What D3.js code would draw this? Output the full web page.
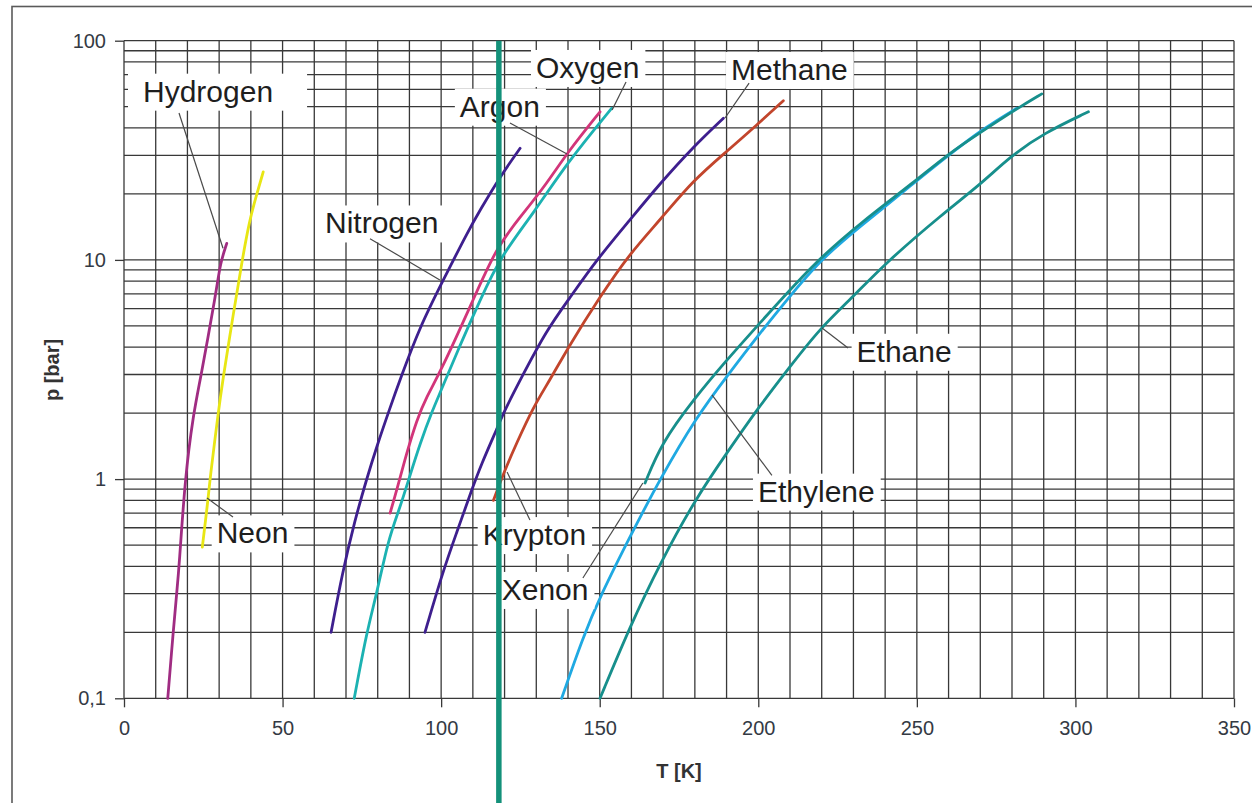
<!DOCTYPE html>
<html><head><meta charset="utf-8">
<script src="https://cdn.jsdelivr.net/npm/d3@7"></script>
<style>body{margin:0;background:#fff} svg{display:block}</style>
</head><body>
<svg id="chart" width="1252" height="803"></svg>
<script>
// ---------- data ----------
const xTicks = [0, 50, 100, 150, 200, 250, 300, 350];
const yTicks = [0.1, 1, 10, 100];
const yTickLabels = ["0,1", "1", "10", "100"];
const xTitle = "T [K]";
const yTitle = "p [bar]";
const markerT = 118.2;

const hydrogenT = [13.8, 15.5, 16.6, 17.4, 19.2, 21.9, 24.0, 29.2, 30.3, 32.4];
const hydrogenP = [0.1, 0.2, 0.3, 0.4, 1.0, 2.0, 2.8, 7.3, 9.6, 11.9];
const neonT = [24.7, 26.6, 27.1, 29.7, 31.0, 34.5, 37.1, 39.5, 41.8, 43.9];
const neonP = [0.49, 0.83, 1.0, 2.0, 2.75, 5.7, 9.65, 15.0, 19.8, 25.2];
const nitrogenT = [65.3, 68.8, 72.8, 76.5, 79.7, 84.0, 87.0, 93.3, 100.7, 108.1, 112.3, 118.6, 124.9];
const nitrogenP = [0.2, 0.37, 0.65, 1.0, 1.41, 2.14, 2.83, 4.96, 8.1, 13.2, 16.9, 24.0, 32.3];
const argonT = [83.9, 86.0, 89.1, 92.3, 95.4, 99.6, 110.1, 117.5, 125.9, 133.3, 139.6, 150.1];
const argonP = [0.70, 0.89, 1.31, 1.86, 2.38, 3.04, 6.56, 11.5, 16.3, 22.3, 30.6, 47.4];
const oxygenT = [72.6, 76.5, 79.7, 83.3, 87.0, 90.0, 93.3, 97.5, 99.6, 106.0, 112.3, 118.6, 129.1, 139.6, 153.8];
const oxygenP = [0.1, 0.2, 0.3, 0.53, 0.74, 1.02, 1.45, 2.1, 2.46, 4.1, 6.56, 10.3, 16.3, 27.6, 49.2];
const methaneT = [94.9, 100.7, 104.9, 109.6, 112.8, 117.0, 119.6, 124.9, 133.3, 140.1, 149.0, 159.5, 169.0, 179.5, 189.0];
const methaneP = [0.2, 0.385, 0.57, 0.89, 1.18, 1.62, 2.0, 2.83, 4.79, 6.56, 10.0, 15.2, 22.3, 32.8, 44.3];
const kryptonT = [116.5, 120.1, 123.8, 129.1, 134.3, 140.1, 150.1, 159.5, 169.0, 179.5, 190.0, 199.5, 207.9];
const kryptonP = [0.8, 1.1, 1.46, 2.14, 2.83, 4.0, 6.8, 10.7, 15.2, 23.1, 31.2, 41.2, 53.2];
const xenonT = [164.3, 169.5, 179.5, 190.0, 199.5, 217.4, 232.1, 249.9, 259.4, 271.3, 281.8, 289.4];
const xenonP = [0.96, 1.46, 2.30, 3.49, 4.96, 9.65, 14.7, 23.1, 30.1, 39.2, 49.2, 57.2];
const ethyleneT = [138.0, 144.8, 150.1, 160.1, 169.0, 180.6, 190.0, 200.5, 209.0, 219.5, 232.1, 248.9, 259.4, 271.0, 281.5];
const ethyleneP = [0.1, 0.191, 0.291, 0.567, 1.0, 1.93, 2.93, 4.63, 6.56, 10.0, 14.2, 22.3, 29.6, 39.8, 49.2];
const ethaneT = [150.1, 159.5, 169.0, 180.6, 190.0, 199.5, 210.0, 219.5, 230.0, 239.4, 258.3, 269.9, 279.4, 289.9, 304.1];
const ethaneP = [0.1, 0.212, 0.413, 0.83, 1.31, 2.07, 3.26, 4.88, 6.8, 9.48, 16.3, 22.0, 29.6, 37.8, 47.4];

// label name, text anchor (T,p), leader from (T,p) to (T,p)
const labelNames = ["Hydrogen", "Neon", "Nitrogen", "Argon", "Oxygen", "Methane", "Krypton", "Xenon", "Ethylene", "Ethane"];
const labelT = [5.99, 29.23, 63.38, 105.9, 129.9, 191.4, 113.1, 119.1, 199.9, 231.0];
const labelP = [52.7, 0.509, 13.2, 45.0, 67.6, 66.2, 0.50, 0.281, 0.789, 3.43];
const leaderFrom = [[17.34, 46.8], [34.37, 0.671], [77.57, 12.5], [121.7, 42.1], [158.3, 64.8], [197.1, 64.1], [128.0, 0.65], [144.7, 0.354], [204.3, 1.04], [228.3, 3.96]];
const leaderTo = [[31.22, 11.3], [26.17, 0.82], [99.6, 8.1], [139.7, 30.4], [153.9, 48.3], [189.5, 44.4], [120.8, 1.077], [163.6, 0.96], [185.4, 2.42], [220.1, 4.89]];

// ---------- series table ----------
const series = [
  {name: "Hydrogen", T: hydrogenT, P: hydrogenP, color: "#a02c82"},
  {name: "Neon", T: neonT, P: neonP, color: "#e8e614"},
  {name: "Nitrogen", T: nitrogenT, P: nitrogenP, color: "#3e1f8e"},
  {name: "Argon", T: argonT, P: argonP, color: "#d2357a"},
  {name: "Oxygen", T: oxygenT, P: oxygenP, color: "#1cb2b2"},
  {name: "Methane", T: methaneT, P: methaneP, color: "#3e1f8e"},
  {name: "Krypton", T: kryptonT, P: kryptonP, color: "#c2452c"},
  {name: "Ethylene", T: ethyleneT, P: ethyleneP, color: "#1fa9e2"},
  {name: "Xenon", T: xenonT, P: xenonP, color: "#178f8c"},
  {name: "Ethane", T: ethaneT, P: ethaneP, color: "#178f8c"}
];
const padOverrides = {"Hydrogen": {l: 15, r: 34}};

// ---------- drawing ----------
const svg = d3.select("#chart");
const FONT = "'Liberation Sans', Arial, Helvetica, sans-serif";
const x = d3.scaleLinear().domain([0, 350]).range([124, 1234]);
const y = d3.scaleLog().domain([0.1, 100]).range([698.3, 40.7]);

// outer frame
svg.append("rect").attr("x", 12).attr("y", 6.5).attr("width", 1300).attr("height", 900)
  .attr("fill", "#fff").attr("stroke", "#5a5a5a").attr("stroke-width", 1.6);

const grid = svg.append("g").attr("stroke", "#383838").attr("stroke-width", 1.3);
d3.range(0, 351, 10).forEach(t => {
  grid.append("line").attr("x1", x(t)).attr("x2", x(t)).attr("y1", y(100)).attr("y2", y(0.1));
});
const hLines = [];
[0.1, 1, 10].forEach(d => { for (let k = 1; k <= 9; k++) hLines.push(d * k); });
hLines.push(100);
hLines.forEach(v => {
  grid.append("line").attr("x1", x(0)).attr("x2", x(350)).attr("y1", y(v)).attr("y2", y(v));
});

// axes ticks
const xAxis = d3.axisBottom(x).tickValues(xTicks).tickSize(9).tickPadding(14).tickFormat(d3.format("d"));
const gx = svg.append("g").attr("transform", `translate(0,${y(0.1)})`).call(xAxis);
gx.select(".domain").remove();
gx.selectAll("line").attr("stroke", "#383838").attr("stroke-width", 1.3);
gx.selectAll("text").attr("font-family", FONT).attr("font-size", 20).attr("fill", "#343a44");

const yAxis = d3.axisLeft(y).tickValues(yTicks).tickSize(9).tickPadding(9)
  .tickFormat((d, i) => yTickLabels[i]);
const gy = svg.append("g").attr("transform", `translate(${x(0)},0)`).call(yAxis);
gy.select(".domain").remove();
gy.selectAll("line").attr("stroke", "#383838").attr("stroke-width", 1.3);
gy.selectAll("text").attr("font-family", FONT).attr("font-size", 20).attr("fill", "#343a44");

// titles
svg.append("text").attr("x", 679).attr("y", 778).attr("text-anchor", "middle")
  .attr("font-family", FONT).attr("font-weight", "bold").attr("font-size", 20).attr("fill", "#333")
  .text(xTitle);
svg.append("text").attr("transform", "translate(59,370) rotate(-90)").attr("text-anchor", "middle")
  .attr("font-family", FONT).attr("font-weight", "bold").attr("font-size", 20).attr("fill", "#333")
  .text(yTitle);

// curves
const line = d3.line().x(d => x(d[0])).y(d => y(d[1])).curve(d3.curveBasis);
series.forEach(s => {
  const pts = s.T.map((t, i) => [t, s.P[i]]);
  svg.append("path").attr("d", line(pts)).attr("fill", "none")
    .attr("stroke", s.color).attr("stroke-width", 2.8)
    .attr("stroke-linecap", "round").attr("stroke-linejoin", "round");
});

// labels
const lab = svg.append("g");
labelNames.forEach((name, i) => {
  const g = lab.append("g");
  const t = g.append("text").attr("x", x(labelT[i])).attr("y", y(labelP[i]))
    .attr("font-family", FONT).attr("font-size", 30).attr("fill", "#1e1e1e").text(name);
  const bb = t.node().getBBox();
  const pad = Object.assign({l: 5, r: 6, t: 1, b: 3}, padOverrides[name] || {});
  g.insert("rect", "text").attr("x", bb.x - pad.l).attr("y", bb.y - pad.t)
    .attr("width", bb.width + pad.l + pad.r).attr("height", bb.height + pad.t + pad.b)
    .attr("fill", "#fff");
  lab.append("line")
    .attr("x1", x(leaderFrom[i][0])).attr("y1", y(leaderFrom[i][1]))
    .attr("x2", x(leaderTo[i][0])).attr("y2", y(leaderTo[i][1]))
    .attr("stroke", "#4a4a4a").attr("stroke-width", 1.2);
});

// vertical green marker
svg.append("line").attr("x1", x(markerT)).attr("x2", x(markerT))
  .attr("y1", y(100)).attr("y2", 803)
  .attr("stroke", "#14917a").attr("stroke-width", 5.5);
</script>
</body></html>
